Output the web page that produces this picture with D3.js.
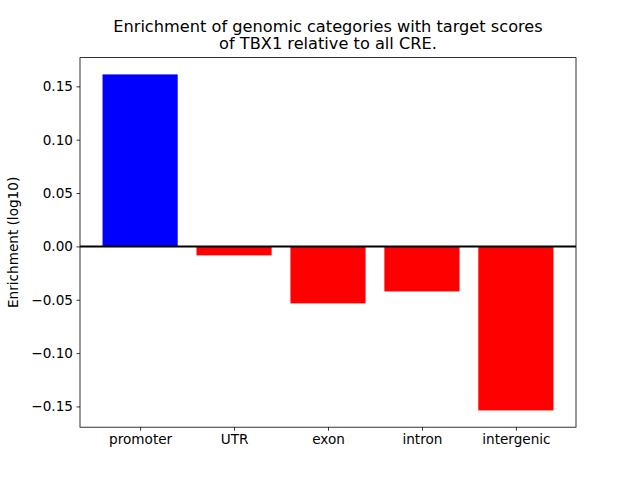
<!DOCTYPE html>
<html><head><meta charset="utf-8">
<script src="https://cdn.jsdelivr.net/npm/d3@7"></script>
<style>body{margin:0;background:#fff}svg{display:block;font-family:"DejaVu Sans",sans-serif}</style>
</head><body><svg id="c" width="640" height="480"></svg>
<script>
const categories = ["promoter","UTR","exon","intron","intergenic"];
const values = [0.1612,-0.0084,-0.0534,-0.0422,-0.1537];
const yTicks = [0.15,0.10,0.05,0.00,-0.05,-0.10,-0.15];
const titleLines = ["Enrichment of genomic categories with target scores","of TBX1 relative to all CRE."];

const svg = d3.select("#c");
const L=80,R=576,T=57.6,B=427.2;
const lo=d3.min(values), hi=d3.max(values), pad=(hi-lo)*0.05;
const y=d3.scaleLinear().domain([lo-pad,hi+pad]).range([B,T]);
const x=d3.scaleLinear().domain([-0.64,4.64]).range([L,R]);
const bw=x(0.8)-x(0);

svg.selectAll("rect.bar").data(values).enter().append("rect")
  .attr("x",(d,i)=>x(i-0.4)).attr("width",bw)
  .attr("y",d=>y(Math.max(0,d))).attr("height",d=>Math.abs(y(d)-y(0)))
  .attr("fill",d=>d>=0?"#0000ff":"#ff0000");

svg.append("line").attr("x1",L).attr("x2",R).attr("y1",y(0)).attr("y2",y(0))
  .attr("stroke","#000").attr("stroke-width",2);

const fmt=d=>(d<0?"\u2212":"")+Math.abs(d).toFixed(2);
const ya=svg.append("g").attr("transform",`translate(${L},0)`)
  .call(d3.axisLeft(y).tickValues(yTicks).tickFormat(fmt).tickSize(3.5).tickPadding(3.5));
const xa=svg.append("g").attr("transform",`translate(0,${B})`)
  .call(d3.axisBottom(x).tickValues(d3.range(categories.length)).tickFormat(i=>categories[i]).tickSize(3.5).tickPadding(3.5));
[ya,xa].forEach(g=>{g.select(".domain").remove();g.selectAll("text").attr("font-size","13.6px").attr("fill","#000").attr("font-family","DejaVu Sans");g.selectAll("line").attr("stroke","#000").attr("stroke-width",0.8);});

svg.append("rect").attr("x",L).attr("y",T).attr("width",R-L).attr("height",B-T)
  .attr("fill","none").attr("stroke","#000").attr("stroke-width",0.8);

svg.append("text").attr("transform",`translate(18,${(T+B)/2}) rotate(-90)`)
  .attr("text-anchor","middle").attr("font-size","13.6px").text("Enrichment (log10)");

svg.selectAll("text.title").data(titleLines).enter().append("text").attr("class","title")
  .attr("x",(L+R)/2).attr("y",(d,i)=>31.5+i*17.5).attr("text-anchor","middle")
  .attr("font-size","16.2px").text(d=>d);
</script></body></html>
